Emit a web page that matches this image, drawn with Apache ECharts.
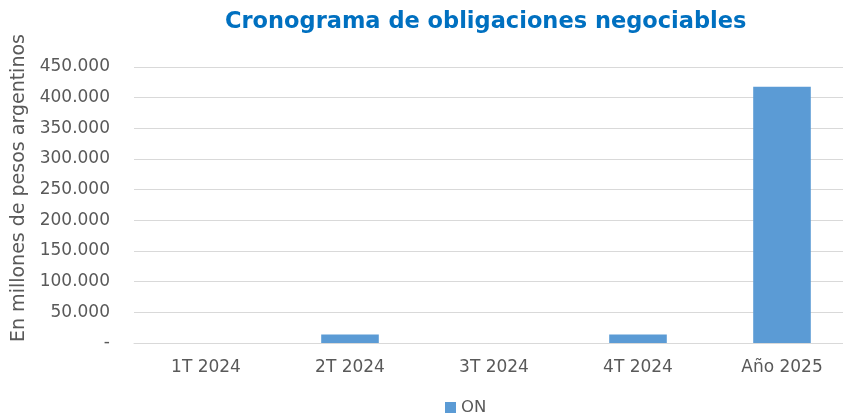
<!DOCTYPE html>
<html>
<head>
<meta charset="utf-8">
<script src="https://cdn.jsdelivr.net/npm/echarts@6/dist/echarts.min.js"></script>
<style>
  html, body { margin: 0; padding: 0; background: #fff; }
  #chart { width: 843px; height: 413px; }
</style>
</head>
<body>
<div id="chart"></div>
<script>
// periodos y montos (millones de pesos)
const categories = ['1T 2024', '2T 2024', '3T 2024', '4T 2024', 'Año 2025']
const onValues = [0, 14000, 0, 14000, 418000]

const chart = echarts.init(document.getElementById('chart'))
const fuente = 'DejaVu Sans'

function fmtMiles(v) {
  if (v === 0) return '-'
  return String(v).replace(/\B(?=(\d{3})+(?!\d))/g, '.')
}

chart.setOption({
  textStyle: { fontFamily: fuente },
  title: {
    text: 'Cronograma de obligaciones negociables',
    left: 220,
    top: 6,
    textStyle: { color: '#0070C0', fontSize: 22.5, fontWeight: 'bold', fontFamily: fuente }
  },
  legend: {
    left: 440,
    bottom: -8,
    data: ['ON'],
    icon: 'rect',
    itemWidth: 11,
    itemHeight: 11,
    itemGap: 5,
    textStyle: { color: '#595959', fontSize: 16.5, fontFamily: fuente }
  },
  grid: { left: 134, width: 720, top: 67, bottom: 70, outerBoundsMode: 'none' },
  xAxis: {
    type: 'category',
    data: categories,
    axisLine: { lineStyle: { color: '#d9d9d9' } },
    axisTick: { show: false },
    axisLabel: { color: '#595959', fontSize: 17, margin: 16, fontFamily: fuente }
  },
  yAxis: {
    type: 'value',
    min: 0,
    max: 450000,
    interval: 50000,
    name: 'En millones de pesos argentinos',
    nameLocation: 'middle',
    nameGap: 102,
    nameTextStyle: { color: '#595959', fontSize: 19, fontFamily: fuente, padding: [0, 0, 0, 34] },
    axisLine: { show: false },
    axisTick: { show: false },
    splitLine: { lineStyle: { color: '#d9d9d9' } },
    axisLabel: { color: '#595959', fontSize: 17, margin: 24, formatter: fmtMiles, fontFamily: fuente }
  },
  series: [{
    name: 'ON',
    type: 'bar',
    data: onValues,
    barCategoryGap: '60%',
    itemStyle: { color: '#5B9BD5' }
  }]
})
</script>
</body>
</html>
